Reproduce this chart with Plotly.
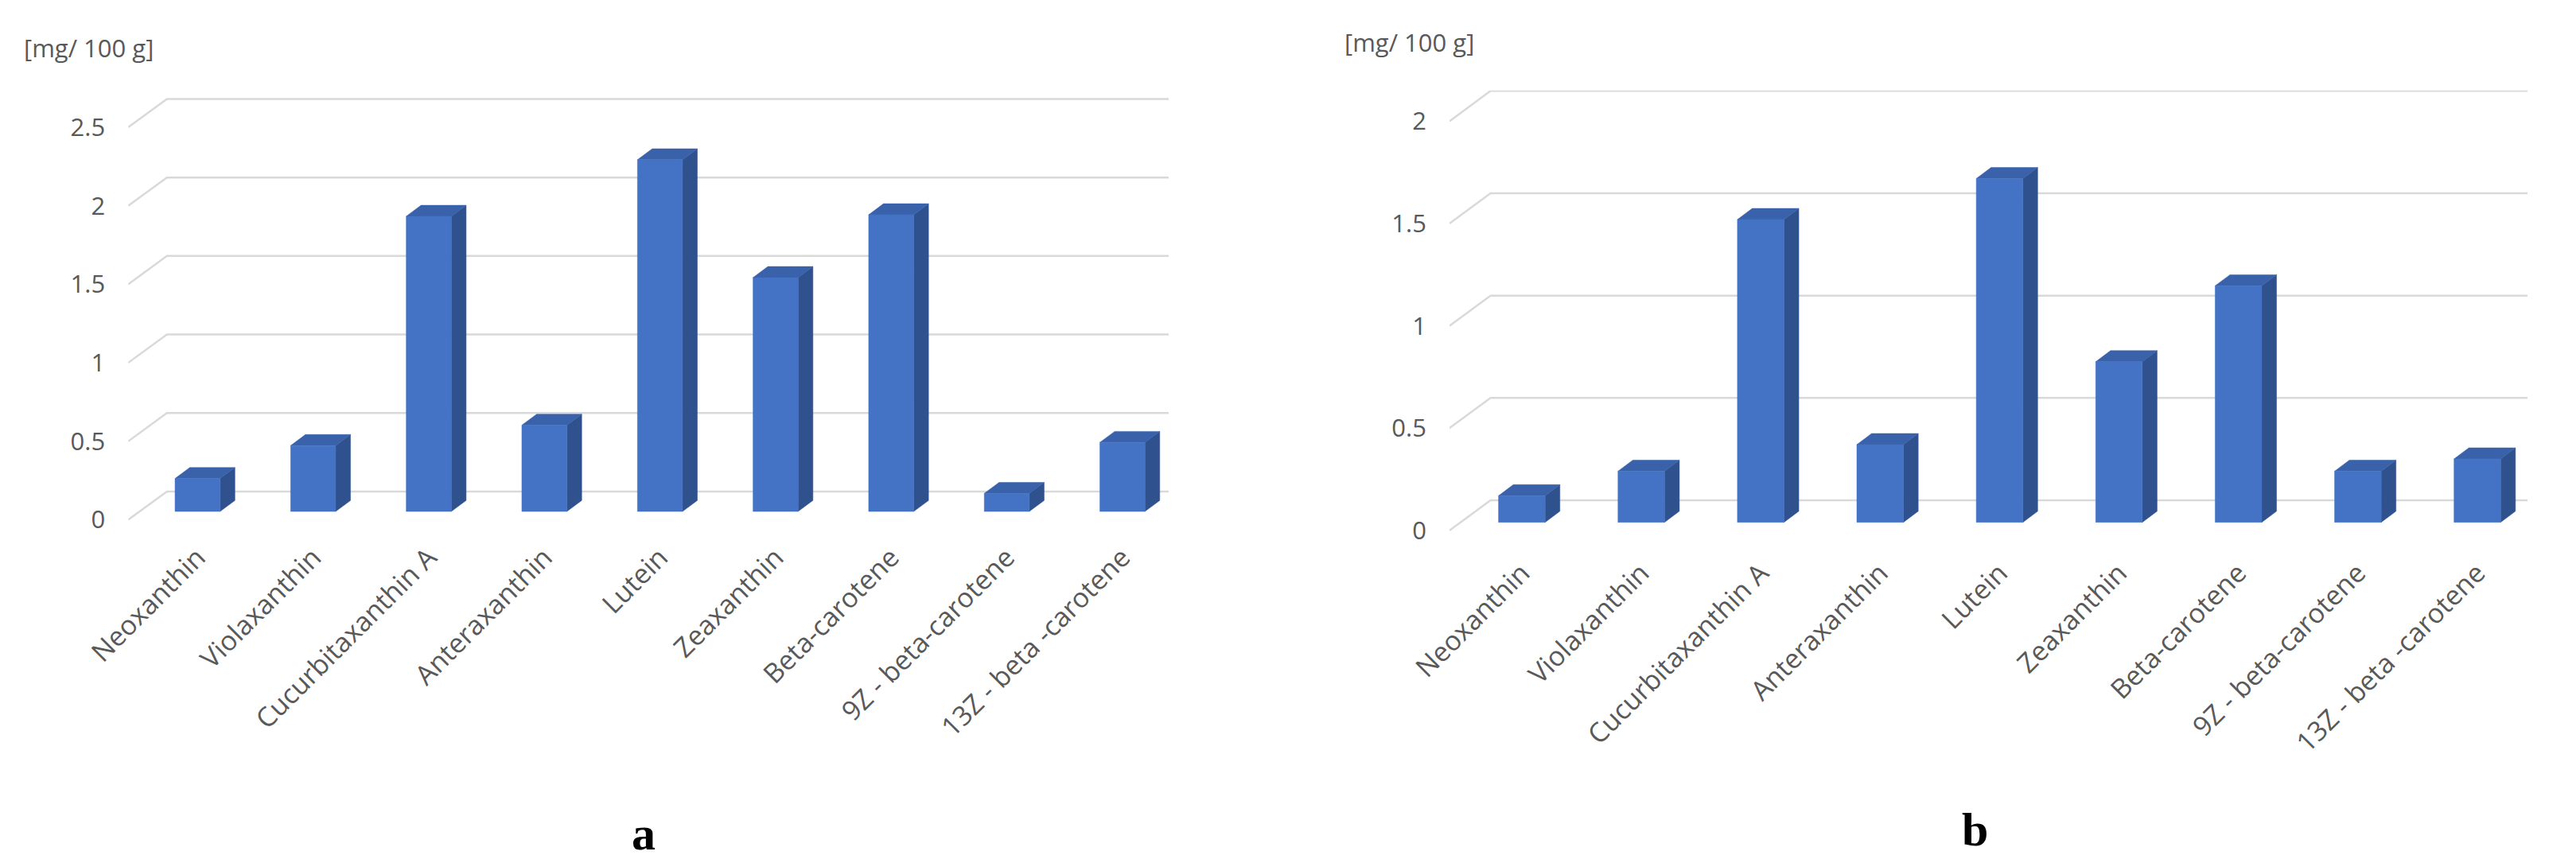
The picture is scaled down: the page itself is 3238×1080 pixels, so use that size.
import plotly.graph_objects as go

categories = ["Neoxanthin", "Violaxanthin", "Cucurbitaxanthin A", "Anteraxanthin", "Lutein",
              "Zeaxanthin", "Beta-carotene", "9Z - beta-carotene", "13Z - beta -carotene"]
values_a = [0.21, 0.42, 1.88, 0.55, 2.24, 1.49, 1.89, 0.115, 0.44]
values_b = [0.13, 0.25, 1.48, 0.38, 1.68, 0.785, 1.156, 0.25, 0.31]
ticks_a = [0, 0.5, 1, 1.5, 2, 2.5]
ticks_b = [0, 0.5, 1, 1.5, 2]
unit_label = "[mg/ 100 g]"

FRONT, SIDE, TOP = "#4472C4", "#2F528F", "#3A62AB"
GRID = "#D9D9D9"
TXT = "#595959"

fig = go.Figure()

def panel(vals, ticks, xa, ya, xr, yr, gdx, gdy, base, bdx, bdy, w=0.39):
    gx, gy = [], []
    for t in ticks:
        gx += [xr[0], xr[0] + gdx, xr[1] + gdx, None]
        gy += [t, t + gdy, t + gdy, None]
    fig.add_trace(go.Scatter(x=gx, y=gy, mode="lines", line=dict(color=GRID, width=2.5),
                             hoverinfo="skip", showlegend=False, xaxis=xa, yaxis=ya, cliponaxis=False))
    fx, fy, sx, sy, tx, ty = [], [], [], [], [], []
    for i, v in enumerate(vals):
        l, r, b, t = i - w / 2, i + w / 2, base, base + v
        fx += [l, r, r, l, l, None]; fy += [b, b, t, t, b, None]
        sx += [r, r + bdx, r + bdx, r, r, None]; sy += [b, b + bdy, t + bdy, t, b, None]
        tx += [l, r, r + bdx, l + bdx, l, None]; ty += [t, t, t + bdy, t + bdy, t, None]
    for X, Y, c in [(sx, sy, SIDE), (tx, ty, TOP), (fx, fy, FRONT)]:
        fig.add_trace(go.Scatter(x=X, y=Y, mode="lines", fill="toself", fillcolor=c,
                                 line=dict(color=c, width=0.5), hoverinfo="skip",
                                 showlegend=False, xaxis=xa, yaxis=ya, cliponaxis=False))

panel(values_a, ticks_a, "x", "y", [-0.6, 8.4], [-0.1, 2.75], 0.335, 0.18, 0.053, 0.128, 0.07)
panel(values_b, ticks_b, "x2", "y2", [-0.606, 8.42], [-0.1, 2.15], 0.344, 0.148, 0.04, 0.124, 0.054)

xfont = dict(family="Open Sans", size=34, color=TXT)
yfont = dict(family="Open Sans", size=31, color=TXT)
common_x = dict(tickmode="array", tickvals=list(range(len(categories))), ticktext=categories,
                tickangle=-45, showgrid=False, zeroline=False, showline=False, ticks="",
                tickfont=xfont, fixedrange=True, automargin=False)
common_y = dict(showgrid=False, zeroline=False, showline=False, ticks="", tickfont=yfont,
                ticklabelstandoff=28, tickmode="array", fixedrange=True, automargin=False)

fig.update_layout(
    width=3238, height=1080, margin=dict(l=0, r=0, t=0, b=0),
    paper_bgcolor="white", plot_bgcolor="white",
    xaxis=dict(domain=[0.0473, 0.4512], range=[-0.6, 8.4], anchor="y", **common_x),
    yaxis=dict(domain=[0.384, 0.905], range=[-0.1, 2.75], anchor="x", tickvals=ticks_a,
               ticktext=[f"{t:g}" for t in ticks_a], **common_y),
    xaxis2=dict(domain=[0.5602, 0.9787], range=[-0.606, 8.42], anchor="y2", **common_x),
    yaxis2=dict(domain=[0.366, 0.902], range=[-0.1, 2.15], anchor="x2", tickvals=ticks_b,
                ticktext=[f"{t:g}" for t in ticks_b], **common_y),
    annotations=[
        dict(text=unit_label, x=20 / 3238, y=1 - 52 / 1080, xref="paper", yref="paper",
             xanchor="left", yanchor="middle", showarrow=False, font=yfont),
        dict(text=unit_label, x=1680 / 3238, y=1 - 45 / 1080, xref="paper", yref="paper",
             xanchor="left", yanchor="middle", showarrow=False, font=yfont),
        dict(text="<b>a</b>", x=801 / 3238, y=1 - 1040 / 1080, xref="paper", yref="paper",
             xanchor="center", yanchor="middle", showarrow=False,
             font=dict(family="Liberation Serif", size=60, color="black")),
        dict(text="<b>b</b>", x=2474 / 3238, y=1 - 1035 / 1080, xref="paper", yref="paper",
             xanchor="center", yanchor="middle", showarrow=False,
             font=dict(family="Liberation Serif", size=60, color="black")),
    ],
)

fig.write_html("out.html")
